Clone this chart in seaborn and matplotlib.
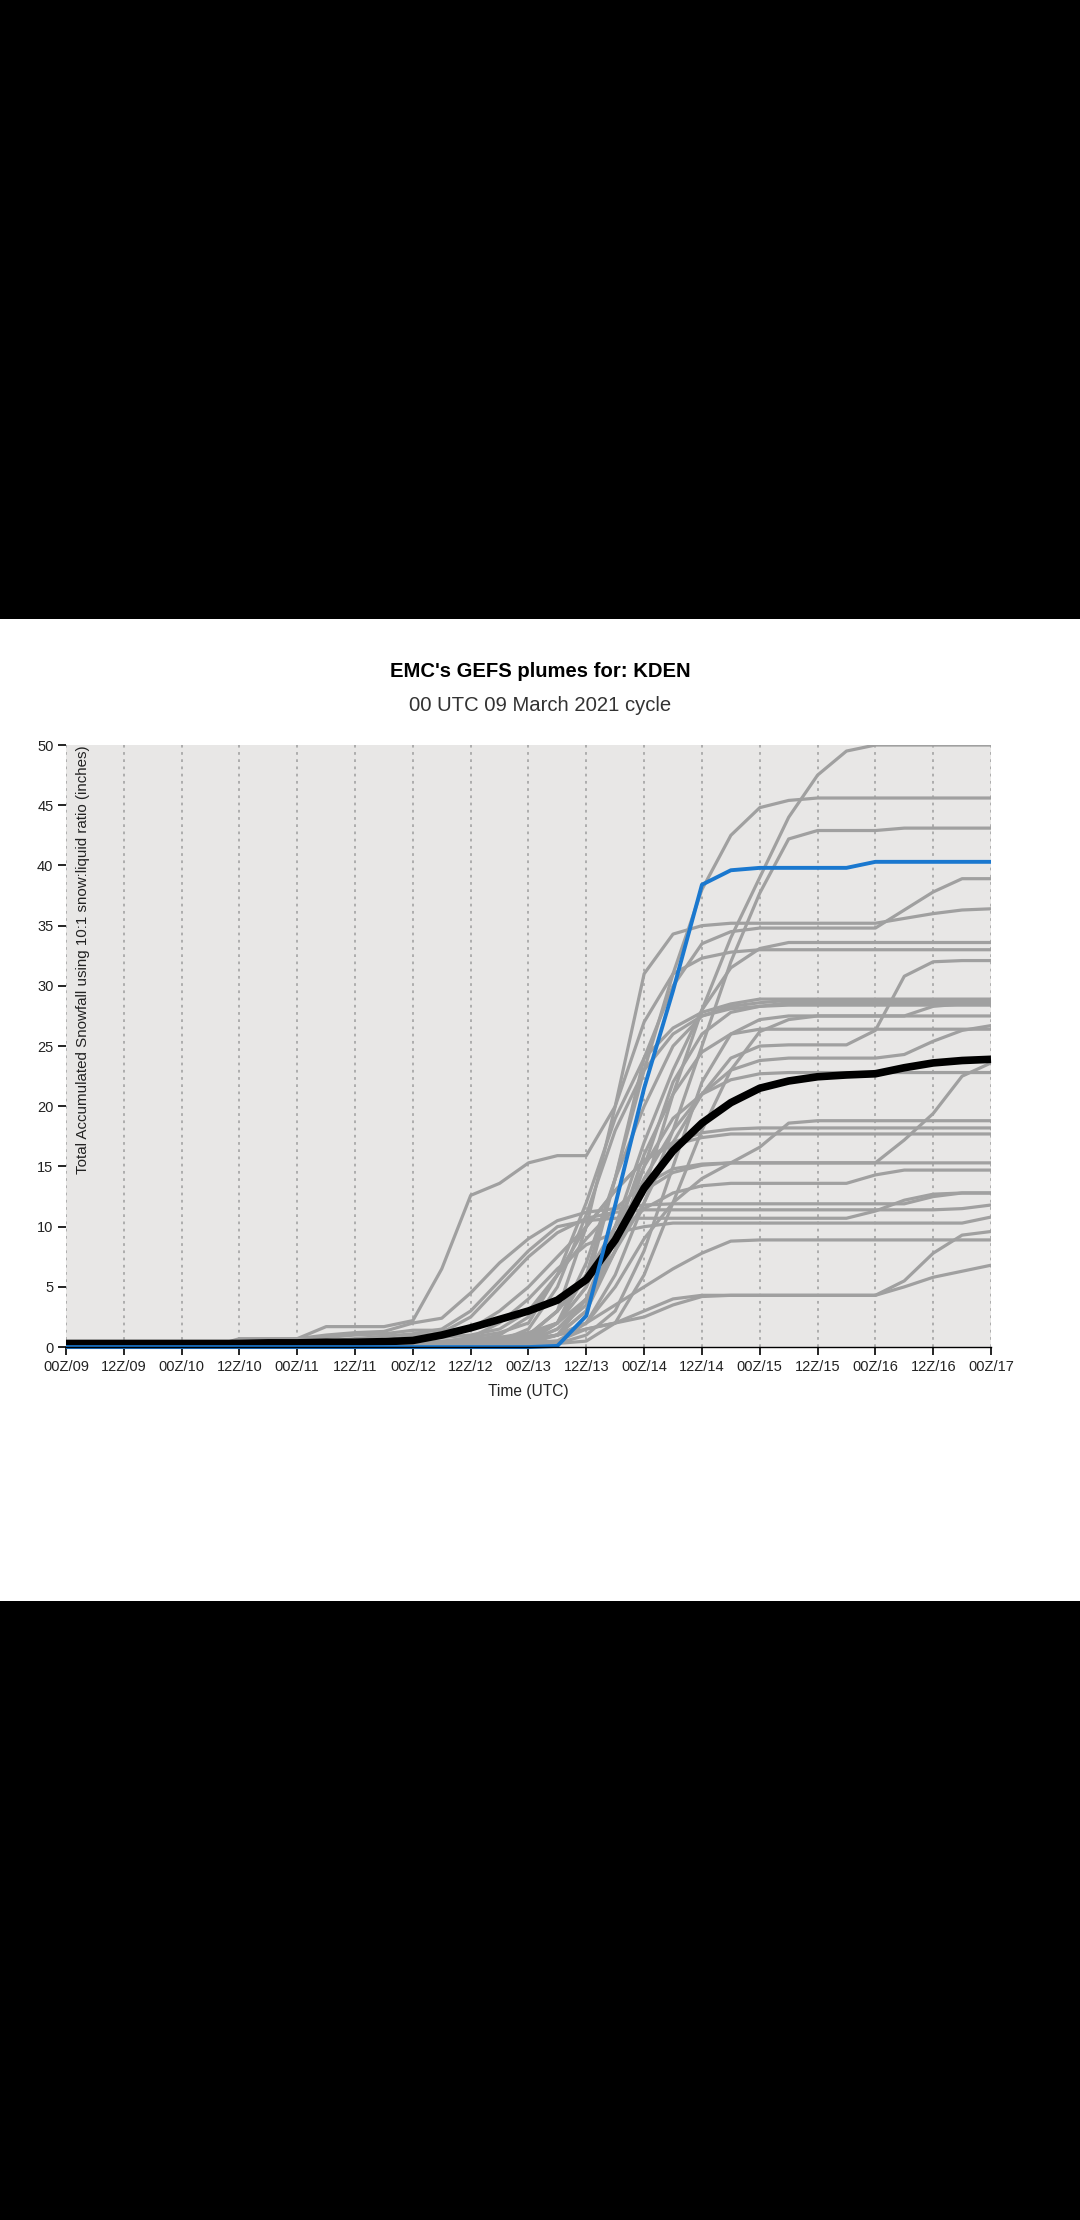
import numpy as np
import pandas as pd
import matplotlib
matplotlib.use("Agg")
import matplotlib.pyplot as plt
from matplotlib.patches import Rectangle
import seaborn as sns

# forecast hour (from 00Z/09) and the axis ticks
hours = [0, 6, 12, 18, 24, 30, 36, 42, 48, 54, 60, 66,
         72, 78, 84, 90, 96, 102, 108, 114, 120, 126, 132, 138,
         144, 150, 156, 162, 168, 174, 180, 186, 192]
tick_hours = [0, 12, 24, 36, 48, 60, 72, 84, 96, 108, 120, 132, 144, 156, 168, 180, 192]
tick_labels = ["00Z/09", "12Z/09", "00Z/10", "12Z/10", "00Z/11", "12Z/11", "00Z/12", "12Z/12",
               "00Z/13", "12Z/13", "00Z/14", "12Z/14", "00Z/15", "12Z/15", "00Z/16", "12Z/16", "00Z/17"]

# ensemble members, accumulated snowfall (inches)
mem01 = [0, 0, 0, 0, 0, 0, 0, 0, 0, 0, 0, 0.2,
         0.3, 0.4, 0.5, 0.8, 1.2, 2.0, 4.0, 8.0, 13.0, 21.0, 28.0, 34.0,
         39.0, 44.0, 47.5, 49.5, 50.0, 50.0, 50.0, 50.0, 50.0]
mem02 = [0, 0, 0, 0, 0, 0, 0, 0, 0, 0, 0, 0,
         0, 0, 0, 0.3, 0.8, 2.0, 6.0, 14.0, 23.0, 31.0, 38.0, 42.5,
         44.8, 45.4, 45.6, 45.6, 45.6, 45.6, 45.6, 45.6, 45.6]
mem03 = [0, 0, 0, 0, 0, 0, 0, 0, 0, 0, 0, 0,
         0.2, 0.2, 0.3, 0.3, 0.5, 1.5, 3.5, 8.0, 12.0, 18.0, 25.0, 32.0,
         37.7, 42.2, 42.9, 42.9, 42.9, 43.1, 43.1, 43.1, 43.1]
mem04 = [0, 0, 0, 0, 0, 0, 0, 0, 0, 0, 0, 0,
         0, 0.2, 0.3, 0.4, 0.5, 2.0, 5.0, 14.0, 24.0, 30.0, 33.5, 34.5,
         34.8, 34.8, 34.8, 34.8, 34.8, 36.3, 37.8, 38.9, 38.9]
mem05 = [0, 0, 0, 0, 0, 0, 0, 0, 0, 0, 0, 0,
         0.2, 0.3, 0.3, 0.4, 1.0, 3.0, 10.0, 20.0, 31.0, 34.3, 35.0, 35.2,
         35.2, 35.2, 35.2, 35.2, 35.2, 35.6, 36.0, 36.3, 36.4]
mem06 = [0, 0, 0, 0, 0, 0, 0, 0, 0, 0, 0, 0,
         0, 0.1, 0.2, 0.4, 0.6, 1.0, 4.0, 10.0, 17.0, 23.0, 28.0, 31.5,
         33.1, 33.6, 33.6, 33.6, 33.6, 33.6, 33.6, 33.6, 33.6]
mem07 = [0, 0, 0, 0, 0, 0, 0.7, 0.7, 0.7, 1.7, 1.7, 1.7,
         2.2, 6.5, 12.6, 13.6, 15.3, 15.9, 15.9, 20.0, 27.0, 31.0, 32.3, 32.8,
         33.0, 33.0, 33.0, 33.0, 33.0, 33.0, 33.0, 33.0, 33.0]
mem08 = [0, 0, 0, 0, 0, 0, 0, 0, 0, 0, 0, 0,
         0, 0, 0.2, 0.3, 0.4, 0.5, 2.0, 6.0, 12.0, 17.0, 21.0, 24.0,
         25.0, 25.1, 25.1, 25.1, 26.3, 30.8, 32.0, 32.1, 32.1]
mem09 = [0, 0, 0, 0, 0, 0, 0, 0, 0, 0, 0, 0,
         0.1, 0.2, 0.2, 0.3, 0.5, 2.0, 7.0, 14.0, 20.0, 25.0, 27.5, 28.3,
         28.6, 28.8, 28.8, 28.8, 28.8, 28.8, 28.8, 28.8, 28.8]
mem10 = [0, 0, 0, 0, 0, 0, 0, 0, 0, 0, 0, 0,
         0, 0, 0.1, 0.2, 0.3, 1.0, 3.0, 8.0, 15.0, 22.0, 26.0, 27.8,
         28.3, 28.6, 28.6, 28.6, 28.6, 28.6, 28.6, 28.6, 28.6]
mem11 = [0, 0, 0, 0, 0, 0, 0, 0, 0, 0, 0, 0,
         0.2, 0.2, 0.3, 0.5, 1.5, 5.0, 11.0, 18.0, 23.0, 26.0, 27.5, 28.1,
         28.3, 28.4, 28.4, 28.4, 28.4, 28.4, 28.4, 28.4, 28.4]
mem12 = [0, 0, 0, 0, 0, 0, 0, 0, 0, 0, 0, 0,
         0, 0, 0, 0.1, 0.2, 0.3, 1.0, 3.0, 8.0, 15.0, 22.0, 26.0,
         27.2, 27.5, 27.5, 27.5, 27.5, 27.5, 28.3, 28.5, 28.5]
mem13 = [0, 0, 0, 0, 0, 0, 0, 0, 0, 0, 0, 0,
         0, 0, 0, 0, 0.2, 0.3, 0.5, 2.0, 6.0, 12.0, 18.0, 23.0,
         26.2, 27.2, 27.5, 27.5, 27.5, 27.5, 27.5, 27.5, 27.5]
mem14 = [0, 0, 0, 0, 0, 0, 0, 0, 0, 0, 0, 0,
         0.1, 0.2, 0.3, 0.4, 0.6, 1.0, 3.0, 9.0, 16.0, 21.0, 24.5, 26.0,
         26.4, 26.4, 26.4, 26.4, 26.4, 26.4, 26.4, 26.4, 26.4]
mem15 = [0, 0, 0, 0, 0, 0, 0, 0, 0, 0, 0, 0,
         0, 0.1, 0.2, 0.3, 0.5, 1.5, 4.0, 9.0, 14.0, 18.0, 21.0, 23.0,
         23.8, 24.0, 24.0, 24.0, 24.0, 24.3, 25.4, 26.3, 26.7]
mem16 = [0, 0, 0, 0, 0, 0, 0, 0, 0, 0, 0, 0,
         0, 0.2, 0.4, 0.6, 1.0, 2.0, 5.0, 10.0, 15.0, 19.0, 21.0, 22.2,
         22.7, 22.8, 22.8, 22.8, 22.8, 22.8, 22.8, 22.8, 22.8]
mem17 = [0, 0, 0, 0, 0, 0, 0, 0, 0, 0, 0, 0,
         0.3, 0.5, 0.7, 0.8, 1.0, 3.0, 6.0, 10.0, 13.0, 14.5, 15.1, 15.3,
         15.3, 15.3, 15.3, 15.3, 15.3, 17.2, 19.4, 22.5, 23.6]
mem18 = [0, 0, 0, 0, 0, 0, 0, 0, 0, 0, 0, 0,
         0, 0.1, 0.2, 0.3, 0.5, 1.0, 2.0, 5.0, 9.0, 12.0, 14.0, 15.3,
         16.6, 18.6, 18.8, 18.8, 18.8, 18.8, 18.8, 18.8, 18.8]
mem19 = [0, 0, 0, 0, 0, 0, 0, 0, 0, 0, 0, 0,
         0.2, 0.4, 0.8, 1.2, 2.0, 6.0, 10.0, 13.0, 15.5, 17.0, 17.8, 18.1,
         18.2, 18.2, 18.2, 18.2, 18.2, 18.2, 18.2, 18.2, 18.2]
mem20 = [0, 0, 0, 0, 0, 0, 0, 0.3, 0.5, 0.8, 1.0, 1.1,
         1.4, 1.4, 1.5, 3.0, 5.0, 7.5, 10.0, 13.0, 15.5, 16.8, 17.4, 17.7,
         17.7, 17.7, 17.7, 17.7, 17.7, 17.7, 17.7, 17.7, 17.7]
mem21 = [0, 0, 0, 0, 0, 0, 0, 0, 0, 0, 0, 0.3,
         0.6, 0.8, 1.0, 1.5, 3.0, 6.0, 9.0, 11.5, 13.5, 14.8, 15.2, 15.3,
         15.3, 15.3, 15.3, 15.3, 15.3, 15.3, 15.3, 15.3, 15.3]
mem22 = [0, 0, 0, 0, 0, 0, 0, 0, 0, 0, 0, 0,
         0.1, 0.2, 0.3, 0.5, 1.0, 3.0, 6.0, 9.0, 11.5, 12.8, 13.4, 13.6,
         13.6, 13.6, 13.6, 13.6, 14.3, 14.7, 14.7, 14.7, 14.7]
mem23 = [0, 0, 0, 0, 0, 0, 0.6, 0.6, 0.7, 1.0, 1.2, 1.3,
         2.0, 2.4, 4.5, 7.0, 9.0, 10.5, 11.2, 11.5, 11.8, 11.9, 11.9, 11.9,
         11.9, 11.9, 11.9, 11.9, 11.9, 11.9, 12.5, 12.8, 12.8]
mem24 = [0, 0, 0, 0, 0, 0, 0, 0, 0.3, 0.5, 0.7, 0.9,
         1.1, 1.5, 3.0, 5.5, 8.0, 10.0, 10.5, 10.7, 10.7, 10.7, 10.7, 10.7,
         10.7, 10.7, 10.7, 10.7, 11.3, 12.2, 12.7, 12.8, 12.8]
mem25 = [0, 0, 0, 0, 0, 0, 0, 0, 0, 0, 0.3, 0.6,
         0.9, 1.2, 2.5, 5.0, 7.5, 9.5, 10.7, 11.2, 11.4, 11.4, 11.4, 11.4,
         11.4, 11.4, 11.4, 11.4, 11.4, 11.4, 11.4, 11.5, 11.8]
mem26 = [0, 0, 0, 0, 0, 0, 0, 0, 0, 0, 0, 0,
         0.2, 0.4, 0.8, 2.0, 4.0, 6.5, 8.5, 9.5, 10.0, 10.3, 10.3, 10.3,
         10.3, 10.3, 10.3, 10.3, 10.3, 10.3, 10.3, 10.3, 10.8]
mem27 = [0, 0, 0, 0, 0, 0, 0, 0, 0, 0, 0, 0,
         0, 0.1, 0.2, 0.4, 0.6, 1.0, 2.0, 3.5, 5.0, 6.5, 7.8, 8.8,
         8.9, 8.9, 8.9, 8.9, 8.9, 8.9, 8.9, 8.9, 8.9]
mem28 = [0, 0, 0, 0, 0, 0, 0, 0, 0, 0, 0, 0,
         0, 0, 0.1, 0.2, 0.3, 0.5, 1.5, 2.0, 2.5, 3.5, 4.2, 4.3,
         4.3, 4.3, 4.3, 4.3, 4.3, 5.5, 7.8, 9.3, 9.6]
mem29 = [0, 0, 0, 0, 0, 0, 0, 0, 0, 0, 0, 0,
         0, 0.1, 0.2, 0.3, 0.5, 1.0, 1.5, 2.0, 3.0, 4.0, 4.3, 4.3,
         4.3, 4.3, 4.3, 4.3, 4.3, 5.0, 5.8, 6.3, 6.8]
mem30 = [0, 0, 0, 0, 0, 0, 0, 0, 0, 0, 0, 0,
         0.2, 0.3, 0.5, 1.0, 2.5, 6.0, 12.0, 19.0, 24.0, 26.5, 27.8, 28.5,
         28.9, 28.9, 28.9, 28.9, 28.9, 28.9, 28.9, 28.9, 28.9]

# highlighted (blue) run and ensemble mean (black)
control = [0, 0, 0, 0, 0, 0, 0, 0, 0, 0, 0, 0,
           0, 0, 0, 0, 0, 0.1, 2.6, 11.8, 21.5, 29.6, 38.4, 39.6,
           39.8, 39.8, 39.8, 39.8, 40.3, 40.3, 40.3, 40.3, 40.3]
ens_mean = [0.3, 0.3, 0.3, 0.3, 0.3, 0.3, 0.3, 0.35, 0.35, 0.4, 0.4, 0.45,
            0.55, 1.0, 1.6, 2.3, 3.0, 3.9, 5.6, 8.9, 13.2, 16.3, 18.6, 20.3,
            21.5, 22.1, 22.45, 22.6, 22.7, 23.2, 23.6, 23.8, 23.9]

members = [mem01, mem02, mem03, mem04, mem05, mem06, mem07, mem08, mem09, mem10,
           mem11, mem12, mem13, mem14, mem15, mem16, mem17, mem18, mem19, mem20,
           mem21, mem22, mem23, mem24, mem25, mem26, mem27, mem28, mem29, mem30]

rows = []
for k, vals in enumerate(members):
    for h, v in zip(hours, vals):
        rows.append({"member": "p%02d" % (k + 1), "hour": h, "snow": v})
df = pd.DataFrame(rows)

sns.set_style("white")
plt.rcParams['font.family'] = ['Liberation Sans', 'DejaVu Sans']

fig = plt.figure(figsize=(10.8, 22.2), dpi=100, facecolor="black")
fig.add_artist(Rectangle((0, 0.2788), 1, 0.4423, transform=fig.transFigure,
                         facecolor="white", edgecolor="none", zorder=0))

ax = fig.add_axes([0.0611, 0.3932, 0.8565, 0.2712])
ax.set_facecolor("#e8e7e6")

sns.lineplot(data=df, x="hour", y="snow", units="member", estimator=None,
             color="#a0a0a0", linewidth=2.3, ax=ax, legend=False)
sns.lineplot(x=hours, y=ens_mean, color="black", linewidth=5.5, ax=ax,
             clip_on=False, solid_capstyle="butt")
sns.lineplot(x=hours, y=control, color="#1a78cf", linewidth=2.8, ax=ax,
             clip_on=False, solid_capstyle="butt")

ax.set_xlim(0, 192)
ax.set_ylim(0, 50)
ax.set_xticks(tick_hours)
ax.set_xticklabels(tick_labels)
ax.set_yticks(range(0, 51, 5))
ax.set_xlabel("")
ax.set_ylabel("")
ax.set_axisbelow(True)
ax.grid(axis="x", linestyle=(0, (1.5, 2.5)), color="#a8a8a8", linewidth=1.3)
ax.grid(axis="y", visible=False)

for side in ["top", "right", "left"]:
    ax.spines[side].set_visible(False)
ax.spines["bottom"].set_color("black")
ax.spines["bottom"].set_linewidth(1.0)
ax.tick_params(axis="both", direction="out", length=6, width=1.2, color="black",
               labelsize=10.5, labelcolor="#222222", pad=3)
ax.tick_params(axis="x", bottom=True)
ax.tick_params(axis="y", left=True)

ax.text(0.011, 1.0, "Total Accumulated Snowfall using 10:1 snow:liquid ratio (inches)",
        transform=ax.transAxes, rotation=90, ha="left", va="top",
        fontsize=10.9, color="#222222")
ax.text(0.5, -0.073, "Time (UTC)", transform=ax.transAxes, ha="center", va="center",
        fontsize=11.2, color="#222222")

fig.text(0.5, 0.6973, "EMC's GEFS plumes for: KDEN", ha="center", va="center",
         fontsize=14.6, fontweight="bold", color="black")
fig.text(0.5, 0.6824, "00 UTC 09 March 2021 cycle", ha="center", va="center",
         fontsize=14.6, color="#333333")

fig.savefig("out.png", dpi=100, facecolor=fig.get_facecolor())
